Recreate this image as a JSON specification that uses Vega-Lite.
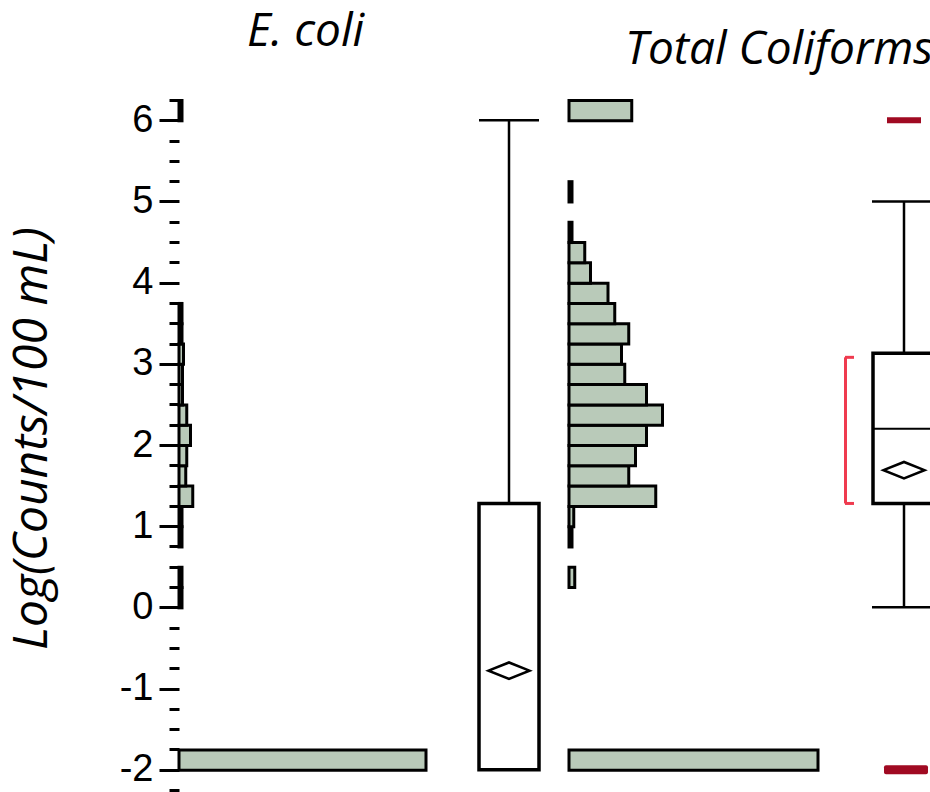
{
  "$schema": "https://vega.github.io/schema/vega-lite/v6.json",
  "background": "white",
  "padding": {"left": 8, "top": 9, "right": 0, "bottom": 2},
  "config": {
    "view": {"stroke": null},
    "title": {"font": "Open Sans", "fontStyle": "italic", "fontWeight": "normal", "fontSize": 46, "color": "black", "offset": 25, "frame": "group"}
  },
  "datasets": {
    "ecoli_hist": [
      {"bin_start": -2.0, "bin_end": -1.75, "count": 247},
      {"bin_start": 0.0, "bin_end": 0.25, "count": 3},
      {"bin_start": 0.25, "bin_end": 0.5, "count": 3},
      {"bin_start": 0.75, "bin_end": 1.0, "count": 3},
      {"bin_start": 1.0, "bin_end": 1.25, "count": 3},
      {"bin_start": 1.25, "bin_end": 1.5, "count": 13.75},
      {"bin_start": 1.5, "bin_end": 1.75, "count": 6.75},
      {"bin_start": 1.75, "bin_end": 2.0, "count": 7.75},
      {"bin_start": 2.0, "bin_end": 2.25, "count": 11.5},
      {"bin_start": 2.25, "bin_end": 2.5, "count": 7.75},
      {"bin_start": 2.5, "bin_end": 2.75, "count": 3.5},
      {"bin_start": 2.75, "bin_end": 3.0, "count": 3.5},
      {"bin_start": 3.0, "bin_end": 3.25, "count": 4.5},
      {"bin_start": 3.25, "bin_end": 3.5, "count": 3},
      {"bin_start": 3.5, "bin_end": 3.75, "count": 3},
      {"bin_start": 6.0, "bin_end": 6.25, "count": 3}
    ],
    "tc_hist": [
      {"bin_start": -2.0, "bin_end": -1.75, "count": 249},
      {"bin_start": 0.25, "bin_end": 0.5, "count": 5.75},
      {"bin_start": 0.75, "bin_end": 1.0, "count": 3},
      {"bin_start": 1.0, "bin_end": 1.25, "count": 4.75},
      {"bin_start": 1.25, "bin_end": 1.5, "count": 86.75},
      {"bin_start": 1.5, "bin_end": 1.75, "count": 59.75},
      {"bin_start": 1.75, "bin_end": 2.0, "count": 66.5},
      {"bin_start": 2.0, "bin_end": 2.25, "count": 77.5},
      {"bin_start": 2.25, "bin_end": 2.5, "count": 93.5},
      {"bin_start": 2.5, "bin_end": 2.75, "count": 77.5},
      {"bin_start": 2.75, "bin_end": 3.0, "count": 55.75},
      {"bin_start": 3.0, "bin_end": 3.25, "count": 52.5},
      {"bin_start": 3.25, "bin_end": 3.5, "count": 59.75},
      {"bin_start": 3.5, "bin_end": 3.75, "count": 45.75},
      {"bin_start": 3.75, "bin_end": 4.0, "count": 39},
      {"bin_start": 4.0, "bin_end": 4.25, "count": 21.5},
      {"bin_start": 4.25, "bin_end": 4.5, "count": 15.75},
      {"bin_start": 4.5, "bin_end": 4.75, "count": 3},
      {"bin_start": 5.0, "bin_end": 5.25, "count": 3},
      {"bin_start": 6.0, "bin_end": 6.25, "count": 62.75}
    ],
    "box": [
      {"var": "E. coli", "lo": -2, "q1": -2, "median": -2, "q3": 1.28, "hi": 6, "mean": -0.78},
      {"var": "Total Coliforms", "lo": 0, "q1": 1.28, "median": 2.2, "q3": 3.13, "hi": 5, "mean": 1.69}
    ],
    "tc_outliers": [
      {"value": 6},
      {"value": -2}
    ],
    "tc_shortest_half": [
      {"lo": 1.28, "hi": 3.08}
    ]
  },
  "spacing": 30,
  "bounds": "flush",
  "hconcat": [
    {
      "width": 270,
      "height": 690,
      "title": {"text": "E. coli", "anchor": "start", "dx": 68},
      "data": {"name": "ecoli_hist"},
      "mark": {"type": "bar", "orient": "horizontal", "binSpacing": 0, "fill": "#b9cab9", "stroke": "black", "strokeWidth": 3},
      "encoding": {
        "y": {
          "field": "bin_start", "type": "quantitative", "bin": "binned",
          "scale": {"domain": [-2.25, 6.25], "nice": false, "zero": false},
          "axis": {
            "values": [-2.25, -2, -1.75, -1.5, -1.25, -1, -0.75, -0.5, -0.25, 0, 0.25, 0.5, 0.75, 1, 1.25, 1.5, 1.75, 2, 2.25, 2.5, 2.75, 3, 3.25, 3.5, 3.75, 4, 4.25, 4.5, 4.75, 5, 5.25, 5.5, 5.75, 6, 6.25],
            "domain": false,
            "grid": false,
            "tickColor": "black",
            "tickWidth": 3,
            "tickSize": {"condition": {"test": "datum.value % 1 === 0", "value": 20}, "value": 10},
            "labelExpr": "datum.value % 1 === 0 ? '' + datum.value : ''",
            "labelOverlap": false,
            "labelBound": false,
            "labelFlush": false,
            "labelFont": "Liberation Sans",
            "labelFontSize": 38,
            "labelColor": "black",
            "labelPadding": 6,
            "title": "Log(Counts/100 mL)",
            "titleFont": "Open Sans",
            "titleFontStyle": "italic",
            "titleFontWeight": "normal",
            "titleFontSize": 48,
            "titleColor": "black",
            "titlePadding": 63,
            "titleY": 338
          }
        },
        "y2": {"field": "bin_end"},
        "x": {"field": "count", "type": "quantitative", "scale": {"domain": [0, 270]}, "axis": null}
      }
    },
    {
      "width": 60,
      "height": 690,
      "data": {"name": "box"},
      "transform": [{"filter": "datum.var === 'E. coli'"}],
      "encoding": {
        "y": {"type": "quantitative", "scale": {"domain": [-2.25, 6.25], "nice": false, "zero": false}, "axis": null}
      },
      "layer": [
        {"mark": {"type": "rule", "color": "black", "strokeWidth": 2.5}, "encoding": {"y": {"field": "q3", "type": "quantitative"}, "y2": {"field": "hi"}}},
        {"mark": {"type": "rule", "color": "black", "strokeWidth": 2.5}, "encoding": {"y": {"field": "lo", "type": "quantitative"}, "y2": {"field": "q1"}}},
        {"mark": {"type": "tick", "color": "black", "size": 60, "thickness": 2.5, "opacity": 1}, "encoding": {"y": {"field": "hi", "type": "quantitative"}}},
        {"mark": {"type": "rect", "fill": "white", "stroke": "black", "strokeWidth": 3.5}, "encoding": {"y": {"field": "q1", "type": "quantitative"}, "y2": {"field": "q3"}}},
        {"mark": {"type": "rule", "color": "black", "strokeWidth": 2}, "encoding": {"y": {"field": "median", "type": "quantitative"}}},
        {"mark": {"type": "point", "shape": "M-1,0L0,-0.4L1,0L0,0.4Z", "size": 1681, "filled": false, "fill": "white", "stroke": "black", "strokeWidth": 2.5, "opacity": 1}, "encoding": {"y": {"field": "mean", "type": "quantitative"}}}
      ]
    },
    {
      "width": 274,
      "height": 690,
      "title": {"text": "Total Coliforms", "anchor": "start", "dx": 56},
      "data": {"name": "tc_hist"},
      "mark": {"type": "bar", "orient": "horizontal", "binSpacing": 0, "fill": "#b9cab9", "stroke": "black", "strokeWidth": 3},
      "encoding": {
        "y": {"field": "bin_start", "type": "quantitative", "bin": "binned", "scale": {"domain": [-2.25, 6.25], "nice": false, "zero": false}, "axis": null},
        "y2": {"field": "bin_end"},
        "x": {"field": "count", "type": "quantitative", "scale": {"domain": [0, 274]}, "axis": null}
      }
    },
    {
      "width": 62,
      "height": 690,
      "encoding": {
        "y": {"type": "quantitative", "scale": {"domain": [-2.25, 6.25], "nice": false, "zero": false}, "axis": null}
      },
      "layer": [
        {
          "data": {"name": "box"},
          "transform": [{"filter": "datum.var === 'Total Coliforms'"}],
          "layer": [
            {"mark": {"type": "rule", "color": "black", "strokeWidth": 2.5}, "encoding": {"y": {"field": "q3", "type": "quantitative"}, "y2": {"field": "hi"}}},
            {"mark": {"type": "rule", "color": "black", "strokeWidth": 2.5}, "encoding": {"y": {"field": "lo", "type": "quantitative"}, "y2": {"field": "q1"}}},
            {"mark": {"type": "tick", "color": "black", "size": 64, "thickness": 2.5, "opacity": 1}, "encoding": {"y": {"field": "hi", "type": "quantitative"}}},
            {"mark": {"type": "tick", "color": "black", "size": 64, "thickness": 2.5, "opacity": 1}, "encoding": {"y": {"field": "lo", "type": "quantitative"}}},
            {"mark": {"type": "rect", "fill": "white", "stroke": "black", "strokeWidth": 3.5}, "encoding": {"y": {"field": "q1", "type": "quantitative"}, "y2": {"field": "q3"}}},
            {"mark": {"type": "rule", "color": "black", "strokeWidth": 2}, "encoding": {"y": {"field": "median", "type": "quantitative"}}},
            {"mark": {"type": "point", "shape": "M-1,0L0,-0.4L1,0L0,0.4Z", "size": 1681, "filled": false, "fill": "white", "stroke": "black", "strokeWidth": 2.5, "opacity": 1}, "encoding": {"y": {"field": "mean", "type": "quantitative"}}}
          ]
        },
        {
          "data": {"name": "tc_outliers"},
          "transform": [{"filter": "datum.value > 0"}],
          "mark": {"type": "tick", "color": "#a00a22", "size": 34, "thickness": 6, "opacity": 1},
          "encoding": {"y": {"field": "value", "type": "quantitative"}}
        },
        {
          "data": {"name": "tc_outliers"},
          "transform": [{"filter": "datum.value < 0"}],
          "mark": {"type": "tick", "color": "#a00a22", "size": 44, "thickness": 9, "cornerRadius": 2, "xOffset": 2, "opacity": 1},
          "encoding": {"y": {"field": "value", "type": "quantitative"}}
        },
        {
          "data": {"name": "tc_shortest_half"},
          "layer": [
            {"mark": {"type": "rule", "color": "#ef3b4f", "strokeWidth": 3, "xOffset": -58.5}, "encoding": {"y": {"field": "lo", "type": "quantitative"}, "y2": {"field": "hi"}}},
            {"mark": {"type": "tick", "color": "#ef3b4f", "size": 9, "thickness": 3, "xOffset": -54.5, "opacity": 1}, "encoding": {"y": {"field": "lo", "type": "quantitative"}}},
            {"mark": {"type": "tick", "color": "#ef3b4f", "size": 9, "thickness": 3, "xOffset": -54.5, "opacity": 1}, "encoding": {"y": {"field": "hi", "type": "quantitative"}}}
          ]
        }
      ]
    }
  ]
}
